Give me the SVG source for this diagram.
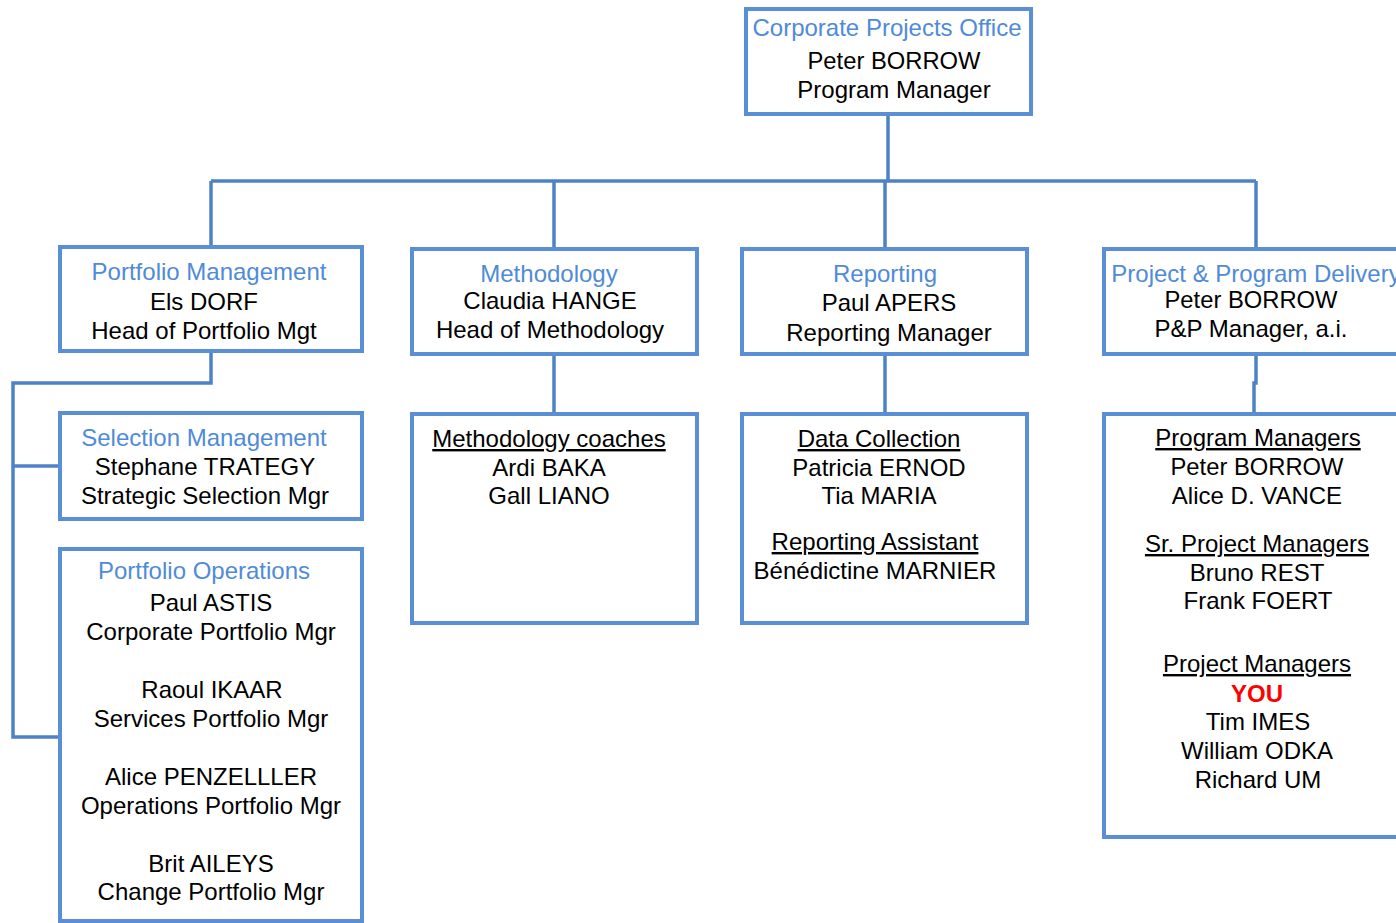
<svg xmlns="http://www.w3.org/2000/svg" width="1396" height="923" viewBox="0 0 1396 923">
<style>
text{font-family:"Liberation Sans",Arial,sans-serif;font-size:24px;fill:#000;text-anchor:middle}
.t{fill:#4f8bd8}
.u{text-decoration:underline}
.you{fill:#ff0000;font-weight:bold}
.box{fill:#fff;stroke:#5a8fd6;stroke-width:4}
.c{fill:none;stroke:#4d82c6;stroke-width:3.5}
</style>
<rect width="1396" height="923" fill="#fff"/>
<g id="connectors">
<path class="c" d="M888 115V181M211 181H1256M211 181V247M554 181V248M885 181V248M1256 181V248"/>
<path class="c" d="M211 353V383H13V737H60M13 466H60"/>
<path class="c" d="M554 354V413M885 354V413M1256 354V383H1254V413"/>
</g>
<g id="cpo">
<rect class="box" x="746" y="9" width="285" height="105"/>
<text class="t" x="887" y="36">Corporate Projects Office</text>
<text x="894" y="69" textLength="173" lengthAdjust="spacingAndGlyphs">Peter BORROW</text>
<text x="894" y="98">Program Manager</text>
</g>
<g id="portfolio-management">
<rect class="box" x="60" y="247" width="302" height="104"/>
<text class="t" x="209" y="280">Portfolio Management</text>
<text x="204" y="310">Els DORF</text>
<text x="204" y="339">Head of Portfolio Mgt</text>
</g>
<g id="selection-management">
<rect class="box" x="60" y="413" width="302" height="106"/>
<text class="t" x="204" y="446">Selection Management</text>
<text x="205" y="475">Stephane TRATEGY</text>
<text x="205" y="504">Strategic Selection Mgr</text>
</g>
<g id="portfolio-operations">
<rect class="box" x="60" y="549" width="302" height="372"/>
<text class="t" x="204" y="579">Portfolio Operations</text>
<text x="211" y="611">Paul ASTIS</text>
<text x="211" y="640">Corporate Portfolio Mgr</text>
<text x="212" y="698">Raoul IKAAR</text>
<text x="211" y="727">Services Portfolio Mgr</text>
<text x="211" y="785">Alice PENZELLLER</text>
<text x="211" y="814">Operations Portfolio Mgr</text>
<text x="211" y="872">Brit AILEYS</text>
<text x="211" y="900">Change Portfolio Mgr</text>
</g>
<g id="methodology">
<rect class="box" x="412" y="249" width="285" height="105"/>
<text class="t" x="549" y="282">Methodology</text>
<text x="550" y="309">Claudia HANGE</text>
<text x="550" y="338">Head of Methodology</text>
</g>
<g id="reporting">
<rect class="box" x="742" y="249" width="285" height="105"/>
<text class="t" x="885" y="282">Reporting</text>
<text x="889" y="311">Paul APERS</text>
<text x="889" y="341">Reporting Manager</text>
</g>
<g id="pp-delivery">
<rect class="box" x="1104" y="249" width="300" height="105"/>
<text class="t" x="1256" y="282">Project &amp; Program Delivery</text>
<text x="1251" y="308" textLength="173" lengthAdjust="spacingAndGlyphs">Peter BORROW</text>
<text x="1251" y="337">P&amp;P Manager, a.i.</text>
</g>
<g id="methodology-coaches">
<rect class="box" x="412" y="414" width="285" height="209"/>
<text class="u" x="549" y="447">Methodology coaches</text>
<text x="549" y="476">Ardi BAKA</text>
<text x="549" y="504">Gall LIANO</text>
</g>
<g id="data-collection">
<rect class="box" x="742" y="414" width="285" height="209"/>
<text class="u" x="879" y="447">Data Collection</text>
<text x="879" y="476">Patricia ERNOD</text>
<text x="879" y="504">Tia MARIA</text>
<text class="u" x="875" y="550">Reporting Assistant</text>
<text x="875" y="579">Bénédictine MARNIER</text>
</g>
<g id="program-managers">
<rect class="box" x="1104" y="414" width="300" height="423"/>
<text class="u" x="1258" y="446">Program Managers</text>
<text x="1257" y="475" textLength="173" lengthAdjust="spacingAndGlyphs">Peter BORROW</text>
<text x="1257" y="504">Alice D. VANCE</text>
<text class="u" x="1257" y="552">Sr. Project Managers</text>
<text x="1257" y="581">Bruno REST</text>
<text x="1258" y="609">Frank FOERT</text>
<text class="u" x="1257" y="672">Project Managers</text>
<text class="you" x="1257" y="702">YOU</text>
<text x="1258" y="730">Tim IMES</text>
<text x="1257" y="759">William ODKA</text>
<text x="1258" y="788">Richard UM</text>
</g>
</svg>
